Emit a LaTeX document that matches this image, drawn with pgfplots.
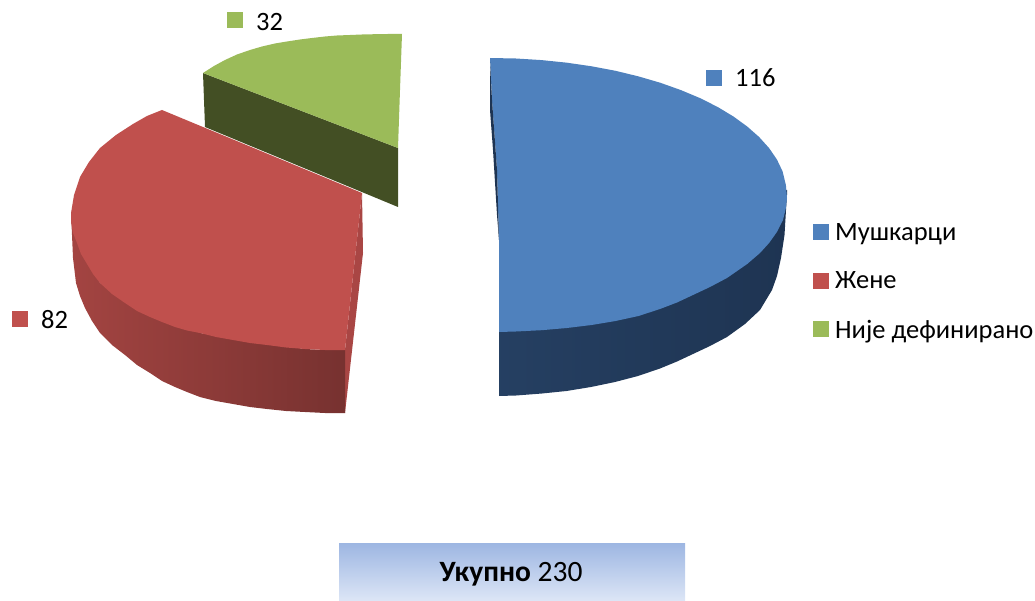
\documentclass[border=0pt]{standalone}
\usepackage{pgfplots}
\pgfplotsset{compat=1.18}
\usepackage{fontspec}
\setmainfont{Carlito}
\definecolor{bl}{HTML}{4F81BD}
\definecolor{rd}{HTML}{C0504D}
\definecolor{gr}{HTML}{9BBB59}
\definecolor{gd}{HTML}{434F24}
\definecolor{bs}{HTML}{1E3452}
\definecolor{boxt}{HTML}{9DB6E2}
\definecolor{boxb}{HTML}{DDE6F6}
\begin{document}
\begin{tikzpicture}
\path[use as bounding box] (0,0) rectangle (1035pt,601pt);
\begin{axis}[hide axis, scale only axis, width=1035pt, height=601pt,
  xmin=0, xmax=1035, ymin=0, ymax=601, y dir=reverse, clip=false,
  every axis plot/.append style={draw=none, forget plot}]
% green side and face
\addplot[fill=gd] coordinates {(203,73)(398,148)(398,207)(205,127)};
\addplot[fill=gr] coordinates {(203,73)(214,66)(225,60)(237,54.5)(250,50)(262,46.5)(275,43.5)(287,41.5)(300,39.5)(312,38)(325,36.5)(337,35.5)(350,35)(362,34.5)(375,34.2)(388,34)(402,34)(400,90)(398,148)};
% red right edge and side
\addplot[fill=rd!88!black] coordinates {(362,193)(363,253)(345,413)(345,350)};
\addplot[left color=rd!85!black, right color=rd!62!black] coordinates {(71,213)(72,235)(73,258)(76,283)(80,296)(85,308)(92,321)(100,333)(112,345)(125,355)(137,365)(150,373)(162,381)(175,387)(187,392)(200,397)(216,401)(233,404)(250,407)(267,409)(286,411)(305,412)(325,413)(345,413)(345,350)(325,350)(305,349)(200,333)(100,283)};
% red face
\addplot[fill=rd] coordinates {(162,110)(147,116)(133,124)(116,135)(100,148)(89,162)(80,177)(74,195)(71,213)(71,222)(73,233)(77,243)(81,254)(87,264)(93,274)(100,283)(112,294)(125,303)(137,311)(150,317)(162,322)(175,327)(187,330.5)(200,333)(216,337)(233,340)(250,343)(267,345)(286,347.5)(305,349)(325,350)(345,350)(362,193)};
% blue side
\addplot[left color=bs!85!bl, middle color=bs!99!bl, right color=bs] coordinates {(787,195)(786,210)(784.5,235)(781,258)(777,276)(772,290)(760,310)(745,324)(727,337)(710,346)(693,354)(677,361.5)(660,368.5)(638,376)(615,382)(591,387)(566.5,391)(542,393.5)(516,395.5)(499,396)(499,320)(787,190)};
% blue face
\addplot[fill=bl] coordinates {(490,58)(515.9,58.5)(541.6,60.1)(566.9,62.7)(591.6,66.3)(615.5,70.8)(638.5,76.4)(660.4,82.8)(680.9,90.1)(700,98.1)(717.5,106.9)(733.3,116.4)(747.2,126.5)(759.2,137.1)(769.1,148.1)(776.9,159.5)(782.5,171.2)(785.9,185)(787,198)(785.9,208)(783,220)(776.9,232)(769.1,243)(760,253)(747.2,264)(727,278)(710,287)(693,295)(677,302.5)(660,309)(638.5,316)(615.5,321)(591.6,325)(566.9,328)(541.6,330.2)(515.9,331.5)(499,332)(499,240)(497,170)(492,100)};
\addplot[fill=bs] coordinates {(490,62)(490,110)(493,150)(497,215)(499,240)(497,170)(492,100)};
% total box
\addplot[top color=boxt, bottom color=boxb] coordinates {(339,543)(685,543)(685,601)(339,601)};
% markers
\addplot[only marks, mark=square*, mark size=7.5pt, mark options={draw=bl, line width=0pt, fill=bl}] coordinates {(714,78)(821,232)};
\addplot[only marks, mark=square*, mark size=7.5pt, mark options={draw=rd, line width=0pt, fill=rd}] coordinates {(20,319)(821,281)};
\addplot[only marks, mark=square*, mark size=7.5pt, mark options={draw=gr, line width=0pt, fill=gr}] coordinates {(235,20)(821,329)};
% text
\def\fs{\fontsize{26.5}{30}\selectfont}
\node[anchor=base west, inner sep=0pt] at (axis cs:735,87) {\fs 116};
\node[anchor=base west, inner sep=0pt] at (axis cs:256,31) {\fs 32};
\node[anchor=base west, inner sep=0pt] at (axis cs:41,328) {\fs 82};
\node[anchor=base west, inner sep=0pt] at (axis cs:835,241) {\fs Мушкарци};
\node[anchor=base west, inner sep=0pt] at (axis cs:835,289) {\fs Жене};
\node[anchor=base west, inner sep=0pt] at (axis cs:835,338) {\fs Није дефинирано};
\node[anchor=base, inner sep=0pt] at (axis cs:511,581) {\fontsize{29.5}{32}\selectfont\textbf{Укупно} 230};
\end{axis}
\end{tikzpicture}
\end{document}
